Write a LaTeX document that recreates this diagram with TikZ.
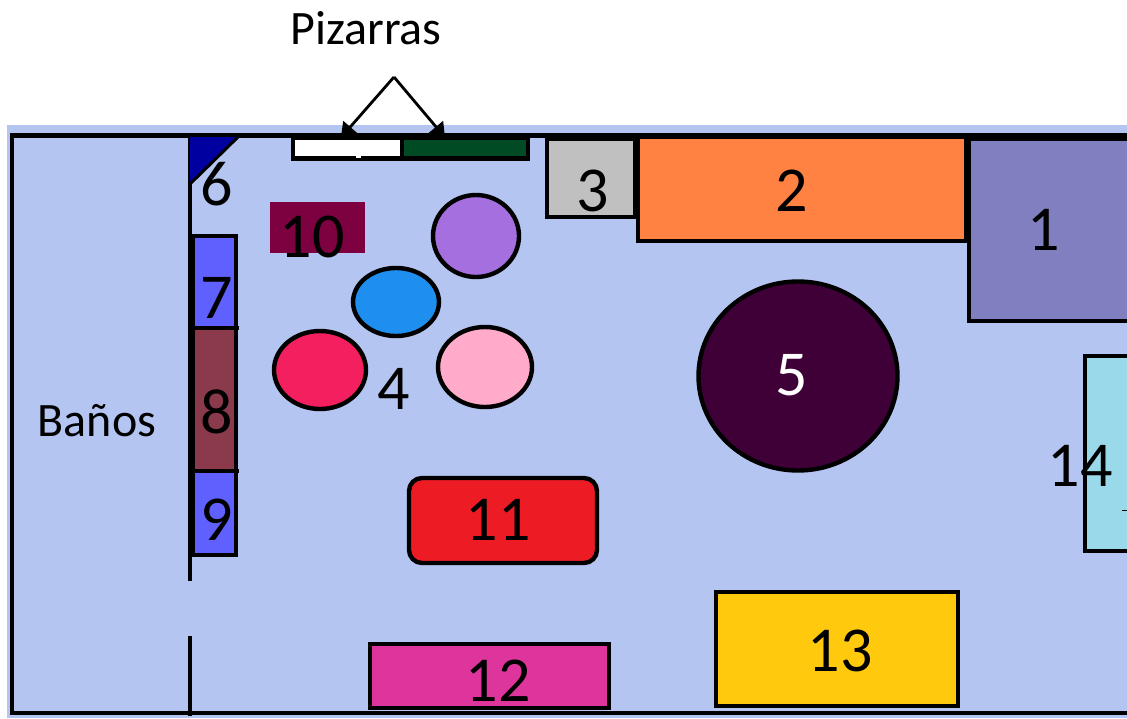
\documentclass[tikz,border=0pt]{standalone}
\usepackage{fontspec}
\setmainfont{Carlito}
\usetikzlibrary{arrows.meta,shapes.geometric}
\definecolor{bgblue}{HTML}{B5C5F1}
\definecolor{c1}{HTML}{8080C0}
\definecolor{c2}{HTML}{FF8243}
\definecolor{c3}{HTML}{C0C0C0}
\definecolor{c5}{HTML}{3F0038}
\definecolor{c6}{HTML}{0000A0}
\definecolor{c79}{HTML}{6060FF}
\definecolor{c8}{HTML}{8A3A4A}
\definecolor{c10}{HTML}{7D0041}
\definecolor{c11}{HTML}{ED1C24}
\definecolor{c12}{HTML}{DD359B}
\definecolor{c13}{HTML}{FFC90E}
\definecolor{c14}{HTML}{99D9EA}
\definecolor{cgreen}{HTML}{004B23}
\definecolor{cpurple}{HTML}{A56FDF}
\definecolor{cblue}{HTML}{1E8FEF}
\definecolor{cred}{HTML}{F41F5F}
\definecolor{cpink}{HTML}{FFABC9}
\tikzset{
  wall/.style={line width=4.8pt,line cap=butt},
  furn/.style={draw=black,line width=4.4pt,rectangle,inner sep=0pt,outer sep=0pt},
  round furn/.style={draw=black,line width=4.4pt,ellipse,inner sep=0pt,outer sep=0pt},
  num/.style={font=\fontsize{64}{64}\selectfont,inner sep=0pt,text=black},
  word/.style={font=\fontsize{48}{48}\selectfont,inner sep=0pt,text=black},
  pointer/.style={line width=2.8pt,-{Triangle[length=14pt,width=18pt]}}
}
\begin{document}
\begin{tikzpicture}[x=1pt,y=-1pt]
\useasboundingbox (0,0) rectangle (1127,718);
\fill[white] (0,0) rectangle (1127,718);
\fill[bgblue] (7,125) rectangle (1127,718);
% outer walls
\draw[wall] (1127,135.5) -- (12,135.5) -- (12,713) -- (1127,713);
\fill[black] (968,133) rectangle (1127,139);
% inner wall
\coordinate (wallTop) at (190,135);
\coordinate (wallA) at (190,581);
\coordinate (wallB) at (190,636);
\coordinate (wallBottom) at (190,716);
\draw[wall] (wallTop) -- (wallA);
\draw[wall] (wallB) -- (wallBottom);
% 6
\fill[c6] (190,137) -- (238,137) -- (190,184) -- cycle;
\draw[line width=3pt] (238,137) -- (190,184);
% pizarras
\node[furn,fill=white,minimum width=109pt,minimum height=21pt] (pizA) at (347.5,148) {};
\node[furn,fill=cgreen,minimum width=126pt,minimum height=21pt] (pizB) at (465,148) {};
\fill[white] (356,155) rectangle (361,157.5);
\coordinate (apex) at (394,77);
\draw[pointer] (apex) -- (pizA.north -| 341,0);
\draw[pointer] (apex) -- (pizB.north -| 445,0);
% furniture
\node[furn,fill=c3,minimum width=88pt,minimum height=78pt] (n3) at (591,178) {};
\node[furn,fill=c2,minimum width=328pt,minimum height=104pt] (n2) at (802,189) {};
\node[furn,fill=c1,minimum width=170pt,minimum height=182pt] (n1) at (1054,230) {};
\node[furn,fill=c14,minimum width=60pt,minimum height=195pt] (n14) at (1115,453.5) {};
\draw[line width=0.8pt] (1122,510) -- (1127,510);
\node[fill=c10,inner sep=0pt,minimum width=95pt,minimum height=51pt] (n10) at (317.5,227.5) {};
\node[furn,fill=c79,minimum width=43pt,minimum height=92pt] (n7) at (214.5,282) {};
\node[furn,fill=c8,minimum width=43pt,minimum height=143pt] (n8) at (214.5,399.5) {};
\node[furn,fill=c79,minimum width=43pt,minimum height=84pt] (n9) at (214.5,513) {};
\draw[line width=4pt] (n8.north east) -- ++(3,0);
\draw[line width=4pt] (n8.south east) -- ++(3,0);
\node[round furn,fill=cpurple,minimum width=86pt,minimum height=82pt] (pur) at (476,236) {};
\node[round furn,fill=cblue,minimum width=86pt,minimum height=68pt] (blu) at (396,302) {};
\node[round furn,fill=cred,minimum width=92pt,minimum height=78pt] (red) at (320,370) {};
\node[round furn,fill=cpink,minimum width=94pt,minimum height=80pt] (pin) at (485,367) {};
\node[round furn,fill=c5,minimum width=199pt,minimum height=189pt] (n5) at (798,376) {};
\node[furn,fill=c11,rounded corners=13pt,minimum width=188pt,minimum height=85pt] (n11) at (503,520.5) {};
\node[furn,fill=c12,minimum width=239pt,minimum height=64pt] (n12) at (489.5,676) {};
\node[furn,fill=c13,minimum width=242pt,minimum height=114pt] (n13) at (837,649) {};
% labels
\node[word] (lp) at (366,28) {Pizarras};
\node[word] (lb) at (97,421) {Baños};
\node[num] (l1) at (1044,230) {1};
\node[num] (l2) at (792,191) {2};
\node[num] (l3) at (593,191) {3};
\node[num] (l4) at (394,389) {4};
\node[num,text=white] (l5) at (792,375) {5};
\node[num] (l6) at (217,184) {6};
\node[num] (l7) at (217,298) {7};
\node[num] (l8) at (217,412) {8};
\node[num] (l9) at (217,520) {9};
\node[num] (l10) at (312,237) {10};
\node[num] (l11) at (498,520) {11};
\node[num] (l12) at (498,681) {12};
\node[num] (l13) at (840,651) {13};
\node[num] (l14) at (1080,466) {14};
\end{tikzpicture}
\end{document}
